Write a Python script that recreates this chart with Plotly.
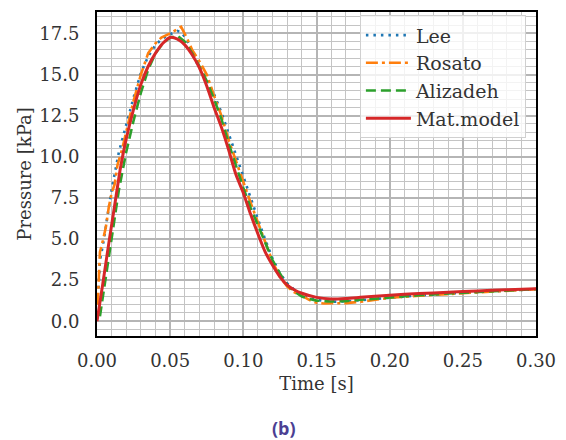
import plotly.graph_objects as go

# ---------------- data ----------------
t_lee = [0.001, 0.0015, 0.002, 0.004, 0.007, 0.01, 0.015, 0.02, 0.025, 0.03, 0.035, 0.04, 0.045,
         0.05, 0.055, 0.058, 0.062, 0.066, 0.07, 0.075, 0.08, 0.085, 0.09, 0.095, 0.10, 0.105,
         0.11, 0.115, 0.12, 0.125, 0.13, 0.135, 0.14, 0.145, 0.15, 0.16, 0.17, 0.18, 0.19, 0.20,
         0.22, 0.24, 0.26, 0.28, 0.30]
p_lee = [2.0, 3.0, 3.7, 4.6, 6.3, 8.0, 10.3, 12.0, 13.6, 15.1, 16.1, 16.8, 17.2,
         17.45, 17.65, 17.55, 17.0, 16.1, 15.4, 14.7, 13.8, 12.7, 11.4, 10.0, 8.7, 7.4,
         6.2, 4.95, 3.8, 2.9, 2.3, 1.9, 1.6, 1.4, 1.3, 1.18, 1.2, 1.28, 1.36, 1.44,
         1.57, 1.68, 1.78, 1.87, 1.95]

t_rosato = [0.0005, 0.001, 0.002, 0.004, 0.006, 0.008, 0.01, 0.012, 0.014, 0.017, 0.02, 0.025,
            0.03, 0.035, 0.04, 0.044, 0.05, 0.0575, 0.061, 0.065, 0.07, 0.075, 0.08, 0.085,
            0.09, 0.095, 0.10, 0.105, 0.11, 0.115, 0.12, 0.125, 0.13, 0.135, 0.14, 0.145,
            0.15, 0.155, 0.163, 0.17, 0.18, 0.19, 0.20, 0.22, 0.24, 0.26, 0.28, 0.30]
p_rosato = [1.0, 2.0, 4.2, 4.9, 5.7, 6.9, 7.8, 8.3, 9.5, 10.4, 11.6, 13.4,
            15.0, 16.3, 16.9, 17.25, 17.5, 17.9, 17.3, 16.5, 15.8, 15.0, 13.7, 12.5,
            11.0, 9.7, 8.4, 7.2, 6.0, 4.8, 3.6, 2.7, 2.1, 1.75, 1.55, 1.3,
            1.12, 1.08, 1.07, 1.1, 1.18, 1.3, 1.42, 1.55, 1.65, 1.76, 1.86, 1.95]

t_alizadeh = [0.002, 0.004, 0.007, 0.01, 0.015, 0.02, 0.025, 0.03, 0.035, 0.04, 0.045, 0.05,
              0.055, 0.06, 0.065, 0.07, 0.075, 0.08, 0.085, 0.09, 0.095, 0.10, 0.105, 0.11,
              0.115, 0.12, 0.125, 0.13, 0.135, 0.14, 0.145, 0.15, 0.16, 0.17, 0.18, 0.19,
              0.20, 0.22, 0.24, 0.26, 0.28, 0.30]
p_alizadeh = [0.3, 1.5, 3.5, 5.3, 8.0, 10.3, 12.2, 13.9, 15.3, 16.3, 16.9, 17.25,
              17.35, 17.0, 16.3, 15.5, 14.6, 13.5, 12.3, 10.8, 9.4, 8.1, 6.9, 5.8,
              4.7, 3.7, 2.9, 2.2, 1.8, 1.5, 1.35, 1.25, 1.2, 1.22, 1.3, 1.38,
              1.45, 1.58, 1.68, 1.78, 1.86, 1.95]

t_model = [0.0, 0.004, 0.008, 0.012, 0.016, 0.02, 0.025, 0.03, 0.035, 0.04, 0.045, 0.05,
           0.055, 0.06, 0.065, 0.07, 0.075, 0.08, 0.085, 0.09, 0.095, 0.10, 0.105, 0.11,
           0.115, 0.12, 0.125, 0.13, 0.135, 0.14, 0.15, 0.16, 0.17, 0.18, 0.19, 0.20,
           0.22, 0.24, 0.26, 0.28, 0.30]
p_model = [0.0, 2.3, 4.7, 7.0, 9.3, 11.1, 12.9, 14.4, 15.5, 16.3, 16.9, 17.25,
           17.15, 16.8, 16.2, 15.4, 14.3, 13.0, 11.8, 10.4, 8.9, 7.8, 6.5, 5.3,
           4.2, 3.4, 2.7, 2.2, 1.9, 1.7, 1.45, 1.35, 1.38, 1.45, 1.52, 1.58,
           1.68, 1.76, 1.84, 1.91, 1.98]

x_ticks = [0.00, 0.05, 0.10, 0.15, 0.20, 0.25, 0.30]
x_tick_labels = ["0.00", "0.05", "0.10", "0.15", "0.20", "0.25", "0.30"]
y_ticks = [0.0, 2.5, 5.0, 7.5, 10.0, 12.5, 15.0, 17.5]
y_tick_labels = ["0.0", "2.5", "5.0", "7.5", "10.0", "12.5", "15.0", "17.5"]

# ---------------- figure ----------------
SERIF = "DejaVu Serif"
TXT = "#333333"
fig = go.Figure()
fig.add_trace(go.Scatter(x=t_lee, y=p_lee, mode="lines", name="Lee",
                         line=dict(color="#1f77b4", width=2.6, dash="2.5px,5px")))
fig.add_trace(go.Scatter(x=t_rosato, y=p_rosato, mode="lines", name="Rosato",
                         line=dict(color="#ff7f0e", width=2.6, dash="12px,4px,3px,4px")))
fig.add_trace(go.Scatter(x=t_alizadeh, y=p_alizadeh, mode="lines", name="Alizadeh",
                         line=dict(color="#2ca02c", width=2.6, dash="10px,5px")))
fig.add_trace(go.Scatter(x=t_model, y=p_model, mode="lines", name="Mat.model",
                         line=dict(color="#d62728", width=3, shape="spline", smoothing=0.6)))

axis_common = dict(
    showline=True, linecolor="black", linewidth=2, mirror=True,
    showgrid=True, gridcolor="#b5b5b5", gridwidth=1.6,
    zeroline=False, ticks="",
    tickfont=dict(family=SERIF, size=18, color=TXT),
)
fig.update_xaxes(**axis_common, range=[0, 0.30], tickmode="array", tickvals=x_ticks,
                 ticktext=x_tick_labels, ticklabelstandoff=7,
                 minor=dict(dtick=0.01, showgrid=True, gridcolor="#c4c4c4", gridwidth=1),
                 title=dict(text="Time [s]", font=dict(family=SERIF, size=18, color=TXT),
                            standoff=8))
fig.update_yaxes(**axis_common, range=[-0.9, 18.8], tickmode="array", tickvals=y_ticks,
                 ticktext=y_tick_labels, ticklabelstandoff=12,
                 minor=dict(dtick=0.5, showgrid=True, gridcolor="#c4c4c4", gridwidth=1),
                 title=dict(text="Pressure [kPa]", font=dict(family=SERIF, size=18, color=TXT),
                            standoff=3))

fig.update_layout(
    width=566, height=440,
    margin=dict(l=97, r=27, t=10, b=104),
    paper_bgcolor="white", plot_bgcolor="white",
    showlegend=True,
    legend=dict(x=0.977, y=0.99, xanchor="right", yanchor="top",
                itemwidth=45,
                bgcolor="rgba(255,255,255,0.8)", bordercolor="#d0d0d0", borderwidth=1,
                font=dict(family=SERIF, size=19, color=TXT)),
    annotations=[dict(text="<b>(b)</b>", xref="paper", yref="paper",
                      x=(285 - 97) / 442, y=-(428 - 335.7) / 325.7,
                      xanchor="center", yanchor="middle", showarrow=False,
                      font=dict(family="Open Sans", size=18, color="#4b3f93"))],
)

fig.write_html("out.html")
